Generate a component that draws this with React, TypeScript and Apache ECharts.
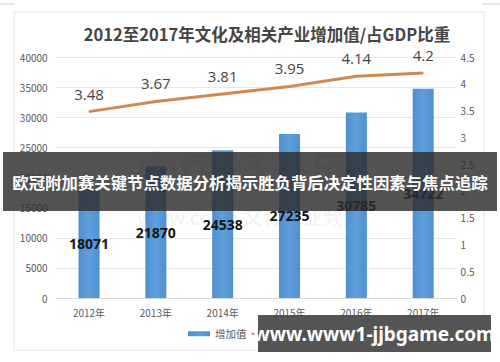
import React, { useEffect, useRef } from "react";
import * as echarts from "echarts";

const categories = ["2012年", "2013年", "2014年", "2015年", "2016年", "2017年"];
const addedValue = [18071, 21870, 24538, 27235, 30785, 34722];
const gdpShare = [3.48, 3.67, 3.81, 3.95, 4.14, 4.2];
const titleText = "2012至2017年文化及相关产业增加值/占GDP比重";
const bannerText = "欧冠附加赛关键节点数据分析揭示胜负背后决定性因素与焦点追踪";
const siteText = "www.www1-jjbgame.com";

export default function App() {
  const ref = useRef<HTMLDivElement>(null);
  useEffect(() => {
    if (!ref.current) return;
    const chart = echarts.init(ref.current, null, { renderer: "svg" });
    const font = "'Noto Sans CJK SC', 'Noto Sans', sans-serif";
    chart.setOption({
      animation: false,
      backgroundColor: "#ffffff",
      textStyle: { fontFamily: font },
      title: {
        text: titleText,
        left: 262,
        top: 21,
        textAlign: "center",
        textStyle: { fontSize: 16.5, fontWeight: "bold", color: "#454545", fontFamily: font },
      },
      grid: { left: 55.6, right: 43.4, top: 57, bottom: 64 },
      legend: {
        bottom: 18,
        left: 183,
        itemWidth: 22,
        itemHeight: 5,
        itemGap: 4,
        textStyle: { fontSize: 10.5, color: "#595959" },
        data: [
          { name: "增加值", icon: "rect" },
          { name: "占GDP比重" },
        ],
      },
      xAxis: {
        type: "category",
        data: categories,
        axisLine: { lineStyle: { color: "#d9d9d9" } },
        axisTick: { show: false },
        axisLabel: { fontSize: 10, color: "#595959", margin: 9 },
      },
      yAxis: [
        {
          type: "value",
          min: 0,
          max: 40000,
          interval: 5000,
          axisLine: { show: false },
          axisTick: { show: false },
          axisLabel: { fontSize: 10, color: "#595959", margin: 8, formatter: (v: number) => String(v) },
          splitLine: { lineStyle: { color: "#e6e6e6" } },
        },
        {
          type: "value",
          min: 0,
          max: 4.5,
          interval: 0.5,
          axisLine: { show: false },
          axisTick: { show: false },
          axisLabel: { fontSize: 10, color: "#595959", margin: 4, formatter: (v: number) => String(v) },
          splitLine: { show: false },
        },
      ],
      series: [
        {
          name: "增加值",
          type: "bar",
          data: addedValue,
          barWidth: 21,
          itemStyle: {
            color: new echarts.graphic.LinearGradient(0, 0, 1, 0, [
              { offset: 0, color: "#4f8fcf" },
              { offset: 0.5, color: "#5f9fdc" },
              { offset: 1, color: "#4f8fcf" },
            ]),
          },
          label: {
            show: true,
            position: "inside",
            fontSize: 14,
            fontWeight: "bold",
            color: "#151515",
            fontFamily: "'Noto Sans', sans-serif",
          },
        },
        {
          name: "占GDP比重",
          type: "line",
          yAxisIndex: 1,
          data: gdpShare,
          symbol: "circle",
          symbolSize: 1,
          showSymbol: true,
          lineStyle: { color: "#cf8a52", width: 3 },
          itemStyle: { color: "#cf8a52" },
          label: {
            show: true,
            position: "top",
            distance: 10,
            fontSize: 15,
            color: "#454545",
            fontFamily: "'Open Sans', 'Noto Sans', sans-serif",
            formatter: (p: any) => String(p.value),
          },
        },
      ],
      graphic: [
        { type: "rect", shape: { x: 14, y: 12, width: 470, height: 338 }, style: { fill: "none", stroke: "#e3e3e3", lineWidth: 1 }, z: -1 },
        { type: "line", shape: { x1: 0, y1: 4, x2: 15, y2: 4 }, style: { stroke: "#cfcfcf", lineWidth: 1 } },
        { type: "line", shape: { x1: 482, y1: 4, x2: 500, y2: 4 }, style: { stroke: "#cfcfcf", lineWidth: 1 } },
        { type: "text", x: 245, y: 170, style: { text: "中国经济网", fontSize: 44, fontWeight: "bold", fill: "rgba(200,80,80,0.12)", align: "center", verticalAlign: "middle", fontFamily: font }, z: 1 },
        { type: "text", x: 250, y: 216, style: { text: "www.ce.cn 文化产业频道", fontSize: 20, fill: "rgba(150,150,150,0.15)", align: "center", verticalAlign: "middle", fontFamily: font }, z: 1 },
        { type: "rect", shape: { x: 3, y: 152, width: 494, height: 59 }, style: { fill: "rgba(45,45,45,0.82)" }, z: 100 },
        { type: "text", x: 250, y: 182, style: { text: bannerText, fontSize: 16.4, fontWeight: "bold", fill: "#ffffff", align: "center", verticalAlign: "middle", fontFamily: font }, z: 101 },
        { type: "rect", shape: { x: 258, y: 315, width: 233, height: 37 }, style: { fill: "rgba(72,72,72,0.93)" }, z: 100 },
        { type: "text", x: 374, y: 334, style: { text: siteText, fontSize: 19, fontWeight: "bold", fill: "#ffffff", align: "center", verticalAlign: "middle", fontFamily: "'Noto Sans', sans-serif" }, z: 101 },
      ],
    });
    return () => chart.dispose();
  }, []);
  return <div ref={ref} style={{ position: "fixed", left: 0, top: 0, width: 500, height: 362 }} />;
}
